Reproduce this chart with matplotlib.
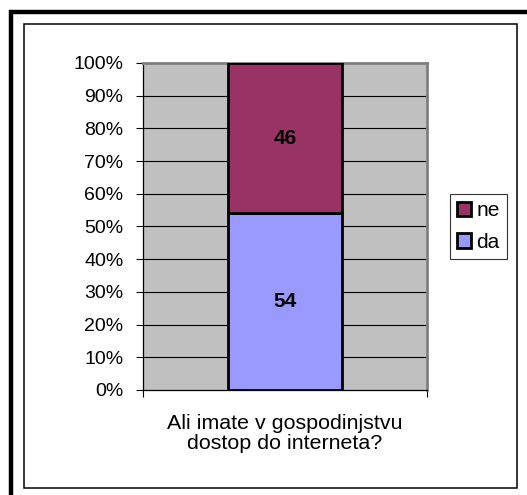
import matplotlib
matplotlib.use('Agg')
import matplotlib.pyplot as plt
from matplotlib.patches import Rectangle, Patch
from matplotlib.lines import Line2D

categories = ['Ali imate v gospodinjstvu\ndostop do interneta?']
series_names = ['da', 'ne']
series_values = [[54], [46]]
series_colors = ['#9999FF', '#993366']
y_ticks = [0, 10, 20, 30, 40, 50, 60, 70, 80, 90, 100]

W, H = 527, 495
plt.rcParams['font.family'] = ['Liberation Sans', 'DejaVu Sans']

fig = plt.figure(figsize=(W / 100, H / 100), dpi=100)
fig.patch.set_facecolor('white')


def px(x, y):
    return x / W, 1 - y / H


# outer thick frame (left + top only visible)
fig.add_artist(Line2D([11 / W, 11 / W], [0, 1 - 10 / H], transform=fig.transFigure,
                      color='black', lw=3.2, solid_capstyle='butt'))
fig.add_artist(Line2D([9 / W, 1], [1 - 12 / H, 1 - 12 / H], transform=fig.transFigure,
                      color='black', lw=3.2, solid_capstyle='butt'))
# inner thin frame
x0, y0 = px(23.5, 487.5)
x1, y1 = px(516.5, 24)
fig.add_artist(Rectangle((x0, y0), x1 - x0, y1 - y0, transform=fig.transFigure,
                         fill=False, edgecolor='black', lw=1.1))

ax = fig.add_axes([143 / W, 1 - 390 / H, 284 / W, 327 / H])
ax.set_facecolor('#C0C0C0')
ax.set_xlim(-0.5, 0.5)
ax.set_ylim(0, 100)

for v in y_ticks[1:]:
    ax.axhline(v, color='black', lw=0.8, zorder=1)

bottom = [0] * len(categories)
for name, vals, col in zip(series_names, series_values, series_colors):
    total = [sum(s[i] for s in series_values) for i in range(len(categories))]
    pct = [v / t * 100 for v, t in zip(vals, total)]
    bars = ax.bar(range(len(categories)), pct, width=0.4, bottom=bottom, color=col,
                  edgecolor='black', lw=2, label=name, zorder=3)
    for b, v in zip(bars, vals):
        ax.text(b.get_x() + b.get_width() / 2, b.get_y() + b.get_height() / 2, str(v),
                ha='center', va='center', fontsize=15, fontweight='bold', zorder=4)
    bottom = [b + p for b, p in zip(bottom, pct)]

ax.set_yticks(y_ticks)
ax.set_yticklabels([f'{t}%' for t in y_ticks], fontsize=14)
ax.tick_params(axis='y', length=5, width=0.8, pad=9, direction='out')
ax.set_xticks([-0.5, 0.5])
ax.set_xticklabels(['', ''])
ax.tick_params(axis='x', length=5, width=0.8, direction='out')

for side in ['top', 'right']:
    ax.spines[side].set_color('#808080')
    ax.spines[side].set_linewidth(2)
for side in ['left', 'bottom']:
    ax.spines[side].set_color('black')
    ax.spines[side].set_linewidth(0.9)

ax.text(0, -0.072, categories[0], transform=ax.get_xaxis_transform(), ha='center',
        va='top', fontsize=15.4, linespacing=1.08)

handles = [Patch(facecolor=series_colors[1], edgecolor='black', lw=2, label=series_names[1]),
           Patch(facecolor=series_colors[0], edgecolor='black', lw=2, label=series_names[0])]
lx0, ly0 = px(449, 260)
lx1, ly1 = px(508, 193)
leg = fig.legend(handles=handles, loc='center', bbox_to_anchor=((lx0 + lx1) / 2, (ly0 + ly1) / 2),
                 fontsize=15, frameon=True, fancybox=False, edgecolor='black',
                 handlelength=0.67, handleheight=0.67, handletextpad=0.25,
                 borderpad=0.33, labelspacing=0.6, borderaxespad=0)
leg.get_frame().set_linewidth(0.8)

fig.savefig('out.png', dpi=100)
